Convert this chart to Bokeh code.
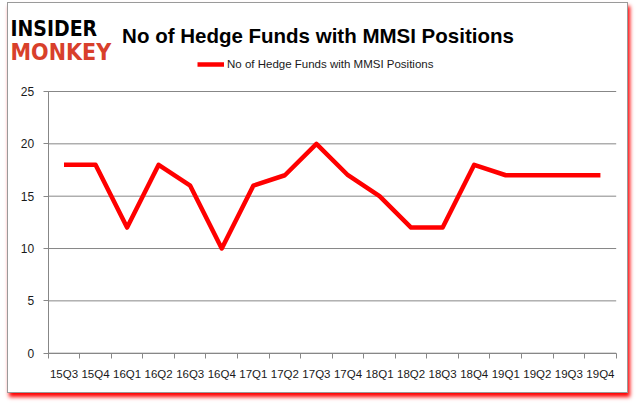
from bokeh.plotting import figure
from bokeh.models import (ColumnDataSource, FixedTicker, Label, Legend, LegendItem, Range1d)
from bokeh.embed import file_html
from bokeh.resources import INLINE

quarters = ["15Q3", "15Q4", "16Q1", "16Q2", "16Q3", "16Q4", "17Q1", "17Q2", "17Q3",
            "17Q4", "18Q1", "18Q2", "18Q3", "18Q4", "19Q1", "19Q2", "19Q3", "19Q4"]
funds = [18, 18, 12, 18, 16, 10, 16, 17, 20, 17, 15, 12, 12, 18, 17, 17, 17, 17]
y_ticks = [0, 5, 10, 15, 20, 25]
series_name = "No of Hedge Funds with MMSI Positions"
title_text = "No of Hedge Funds with MMSI Positions"

n = len(quarters)
y_max = y_ticks[-1]
xs = [i + 0.5 for i in range(n)]
src = ColumnDataSource(dict(x=xs, y=funds, q=quarters))

# canvas size and where the data area sits inside it (pixels)
W, H = 621, 391
PL, PR, PT, PB = 39.7, 607.7, 88.0, 349.7
ux = (PR - PL) / n
uy = (PB - PT) / y_max
x_range = Range1d(-PL / ux, n + (W - PR) / ux)
y_range = Range1d(-(H - PB) / uy, y_max + PT / uy)

p = figure(width=W, height=H, output_backend="svg", toolbar_location=None,
           x_range=x_range, y_range=y_range,
           min_border_left=0, min_border_right=0, min_border_top=0, min_border_bottom=0)
p.styles = {"border": "1px solid #9a9a9a", "box-shadow": "2px 4px 4px #ff0000",
            "margin-left": "7px", "margin-top": "2px"}
p.outline_line_color = None
p.background_fill_color = "white"
p.border_fill_color = "white"
p.xgrid.grid_line_color = None
p.ygrid.grid_line_color = None

# horizontal grid lines across the data area
p.segment(x0=[0] * len(y_ticks), x1=[n] * len(y_ticks), y0=y_ticks, y1=y_ticks,
          line_color="#878787", line_width=1)

r = p.line("x", "y", source=src, line_color="#ff0000", line_width=4.5, line_join="round")

# x axis
xa = p.xaxis[0]
xa.fixed_location = 0
xa.bounds = (0, n)
xa.ticker = FixedTicker(ticks=xs, minor_ticks=list(range(n + 1)))
xa.major_label_overrides = {x: q for x, q in zip(xs, quarters)}
xa.major_tick_out = 0
xa.major_tick_in = 0
xa.minor_tick_out = 5
xa.minor_tick_in = 0
xa.minor_tick_line_color = "#878787"
xa.axis_line_color = "#878787"
xa.major_label_standoff = 10
xa.major_label_text_font = "Liberation Sans"
xa.major_label_text_font_size = "11.5px"
xa.major_label_text_color = "#1a1a1a"

# y axis
ya = p.yaxis[0]
ya.fixed_location = 0
ya.bounds = (0, y_max)
ya.ticker = FixedTicker(ticks=y_ticks)
ya.minor_tick_line_color = None
ya.major_tick_out = 5
ya.major_tick_in = 0
ya.major_tick_line_color = "#878787"
ya.axis_line_color = "#878787"
ya.major_label_standoff = 9
ya.major_label_text_font = "Liberation Sans"
ya.major_label_text_font_size = "12px"
ya.major_label_text_color = "#1a1a1a"

# legend
leg = Legend(items=[LegendItem(label=series_name, renderers=[r])],
             location=(189, 324), border_line_color=None, background_fill_alpha=0,
             padding=0, margin=0, glyph_width=27, glyph_height=12, label_height=12,
             label_standoff=3, label_text_font="Liberation Sans",
             label_text_font_size="11.5px", label_text_color="#1a1a1a")
p.add_layout(leg, "center")

# title
p.add_layout(Label(x=309.5, y=359, x_units="screen", y_units="screen", text=title_text,
                   text_align="center", text_baseline="alphabetic",
                   text_font="Liberation Sans", text_font_style="bold",
                   text_font_size="20.5px", text_color="black"))

# logo
logo_font = "Liberation Sans Narrow, DejaVu Sans Condensed, sans-serif"
p.add_layout(Label(x=2, y=366, x_units="screen", y_units="screen", text="INSIDER",
                   text_align="left", text_baseline="alphabetic", text_font=logo_font,
                   text_font_style="bold", text_font_size="21px", text_color="black"))
p.add_layout(Label(x=2, y=343, x_units="screen", y_units="screen", text="MONKEY",
                   text_align="left", text_baseline="alphabetic", text_font=logo_font,
                   text_font_style="bold", text_font_size="23px", text_color="#d8402b"))

open("out.html", "w").write(file_html(p, INLINE))
